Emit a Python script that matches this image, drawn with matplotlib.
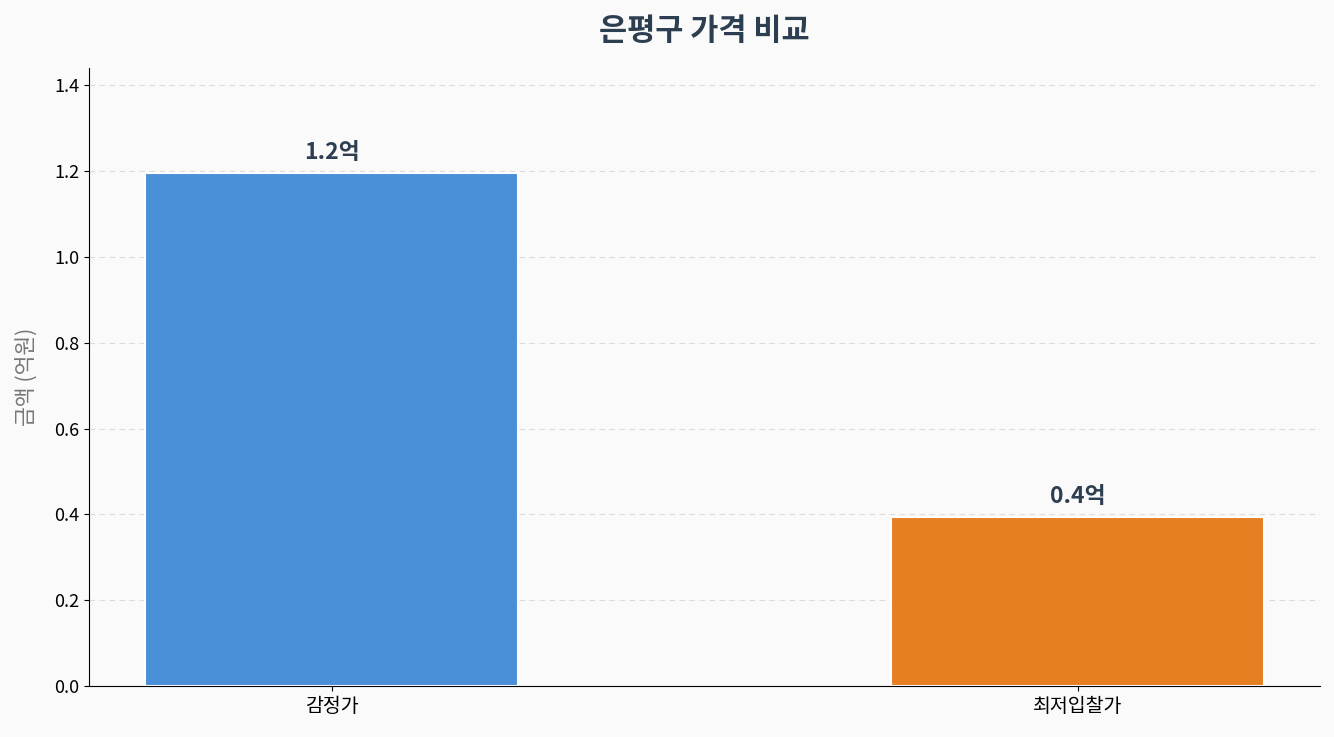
import matplotlib
matplotlib.use('Agg')
import matplotlib.pyplot as plt

plt.rcParams['font.family'] = ['Noto Sans CJK KR', 'DejaVu Sans']

categories = ['감정가', '최저입찰가']
values = [1.195, 0.395]
labels = ['1.2억', '0.4억']
colors = ['#4a90d9', '#e67e22']

fig, ax = plt.subplots(figsize=(13.34, 7.37), dpi=100)
fig.patch.set_facecolor('#fafafa')
ax.set_facecolor('#fafafa')

bars = ax.bar(categories, values, width=0.5, color=colors, edgecolor='white', linewidth=1.5)
for b, lab in zip(bars, labels):
    ax.text(b.get_x() + b.get_width() / 2, b.get_height() + 0.02, lab,
            ha='center', va='bottom', fontsize=16.5, fontweight='bold', color='#2c3e50')

ax.set_ylim(0, 1.44)
ax.set_title('은평구 가격 비교', fontsize=22, fontweight='bold', color='#2c3e50', pad=20)
ax.set_ylabel('금액 (억원)', fontsize=15.5, color='#777777', labelpad=12)
ax.tick_params(axis='x', labelsize=14)
ax.tick_params(axis='y', labelsize=13)
ax.yaxis.grid(True, linestyle=(0, (5, 4)), color='#d8d8d8', alpha=0.9)
ax.set_axisbelow(True)
ax.spines['top'].set_visible(False)
ax.spines['right'].set_visible(False)

plt.subplots_adjust(left=0.067, right=0.9895, top=0.908, bottom=0.069)
plt.savefig('out.png', dpi=100, facecolor=fig.get_facecolor())
